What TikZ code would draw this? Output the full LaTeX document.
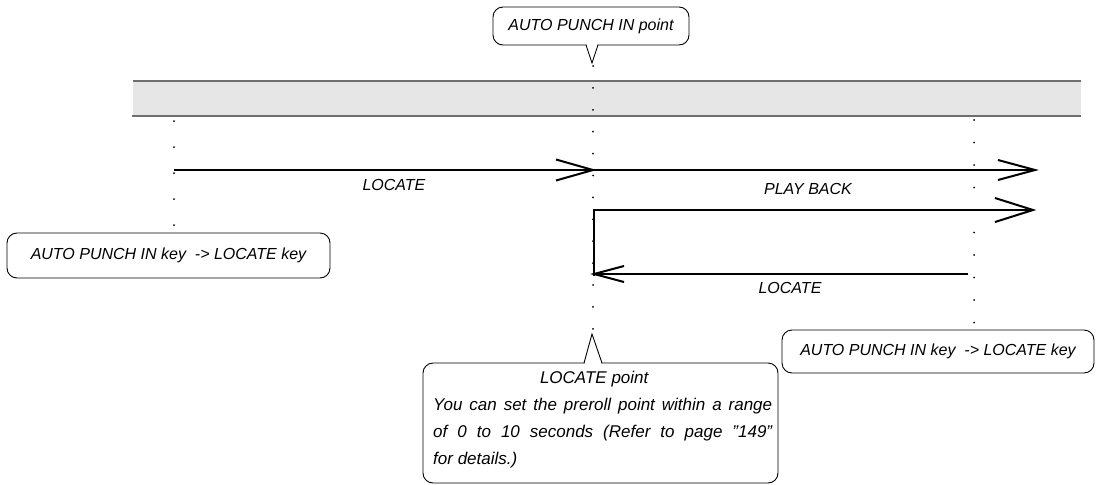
\documentclass[tikz,border=0pt]{standalone}
\usepackage{fontspec}
\setmainfont{Liberation Sans}
\definecolor{bandfill}{HTML}{E6E6E6}
\definecolor{bandline}{HTML}{6E6E6E}
\begin{document}
\begin{tikzpicture}[x=1pt,y=-1pt,
  lbl/.style={font=\fontsize{16}{19}\selectfont\itshape, inner sep=0pt},
  callout/.style={draw, rounded corners=10pt, line width=0.9pt, fill=white, inner sep=0pt, font=\fontsize{16}{19}\selectfont\itshape},
  heavy/.style={line width=2pt, line join=miter},
  thin/.style={line width=0.9pt}
]
\useasboundingbox (0,0) rectangle (1096,485);
% band
\fill[bandfill] (133,81) rectangle (1081,115);
\draw[line width=1.5pt, bandline] (133,81) -- (1081,81);
\draw[line width=2pt, bandline] (132,115.5) -- (1081,115.5);
% dotted guides
\foreach \k in {0,...,12} \fill (593,66+21.9*\k) circle (1pt);
\foreach \k in {0,...,4} \fill (174,121+26*\k) circle (1pt);
\foreach \k in {0,...,9} \fill (974,120+22.5*\k) circle (1pt);
% arrows
\coordinate (l0) at (174,170);
\coordinate (c0) at (593,170);
\coordinate (r0) at (1035,170);
\draw[heavy] (l0) -- (c0) -- (r0);
\draw[heavy] ([shift={(-37,-10.5)}]c0) -- (c0) -- ([shift={(-37,10.5)}]c0);
\draw[heavy] ([shift={(-37,-10)}]r0) -- (r0) -- ([shift={(-37,10)}]r0);
\coordinate (c1) at (594,276);
\coordinate (c2) at (594,210);
\coordinate (r1) at (1033,210);
\draw[heavy] (c1) -- (c2) -- (r1);
\draw[heavy] ([shift={(-38,-12)}]r1) -- (r1) -- ([shift={(-38,12)}]r1);
\coordinate (r2) at (968,274);
\coordinate (c3) at (594,274);
\draw[heavy] (r2) -- (c3);
\draw[heavy] ([shift={(30,-8)}]c3) -- (c3) -- ([shift={(30,8)}]c3);
% labels
\node[lbl] (locA) at (394,185) {LOCATE};
\node[lbl] (play) at (808,189) {PLAY BACK};
\node[lbl] (locB) at (790,288) {LOCATE};
% callouts
\node[callout, minimum width=196pt, minimum height=38pt] (apip) at (591,26) {AUTO PUNCH IN point};
\fill[white] (586.8,43) rectangle (597.2,47);
\draw[thin] (586,45) -- (592,63) -- (598,45);
\node[callout, minimum width=323pt, minimum height=45pt] (keyL) at (168.5,255.5) {AUTO PUNCH IN key\ \ -> LOCATE key};
\node[callout, minimum width=312pt, minimum height=43pt] (keyR) at (938,351.5) {AUTO PUNCH IN key\ \ -> LOCATE key};
\node[callout, minimum width=355pt, minimum height=120pt] (lp) at (600.5,423) {};
\fill[white] (584.8,361) rectangle (601.2,365.5);
\draw[thin] (584,363) -- (592,334) -- (602,363);
\node[anchor=base west, inner sep=0pt, font=\fontsize{17}{27}\selectfont\itshape] (lptext) at (433,383)
  {\parbox[t]{339pt}{\makebox[322pt]{LOCATE point}\\
   \makebox[339pt][s]{You can set the preroll point within a range}\\
   \makebox[339pt][s]{of 0 to 10 seconds (Refer to page \symbol{34}149\symbol{34}}\\
   for details.)}};
\end{tikzpicture}
\end{document}
